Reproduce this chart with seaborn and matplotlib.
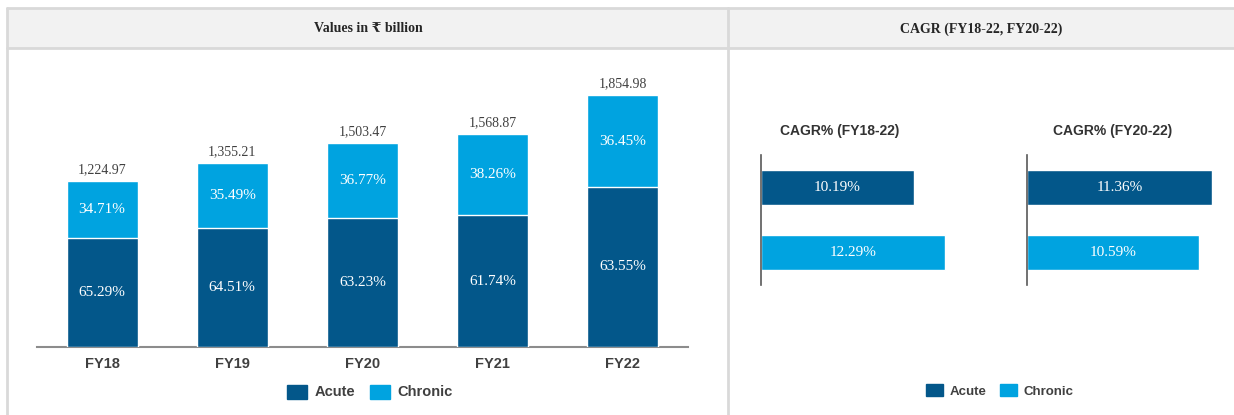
import matplotlib
matplotlib.use("Agg")
import matplotlib.pyplot as plt
import seaborn as sns
import pandas as pd
from matplotlib.patches import Rectangle, Patch
from matplotlib.lines import Line2D

# ---------------- data ----------------
years = ["FY18", "FY19", "FY20", "FY21", "FY22"]
totals = [1224.97, 1355.21, 1503.47, 1568.87, 1854.98]
acute_share = [65.29, 64.51, 63.23, 61.74, 63.55]
chronic_share = [34.71, 35.49, 36.77, 38.26, 36.45]

cagr_categories = ["Acute", "Chronic"]
cagr_18_22 = [10.19, 12.29]
cagr_20_22 = [11.36, 10.59]

panel_titles = ["Values in \u20b9 billion", "CAGR (FY18-22, FY20-22)"]
cagr_titles = ["CAGR% (FY18-22)", "CAGR% (FY20-22)"]

ACUTE = "#03578A"
CHRONIC = "#00A3E0"
TXT = "#404040"

W, H = 1234, 415
sns.set_theme(style="white")
plt.rcParams["font.family"] = ["Liberation Sans", "DejaVu Sans"]

fig = plt.figure(figsize=(W / 100, H / 100), dpi=100)
fig.patch.set_facecolor("white")


def px(x, y, w, h):
    return [x / W, 1 - (y + h) / H, w / W, h / H]


def fx(x):
    return x / W


def fy(y):
    return 1 - y / H


# ---------------- frame / header ----------------
border = "#d9d9d9"
fig.add_artist(Rectangle((fx(7), fy(48)), fx(1234 - 7), fy(8) - fy(48),
                         transform=fig.transFigure, facecolor="#f2f2f2",
                         edgecolor="none", zorder=0))
for yy in (8, 48):
    fig.add_artist(Line2D([fx(7), 1], [fy(yy), fy(yy)], transform=fig.transFigure,
                          color=border, lw=2))
for xx in (7, 728):
    fig.add_artist(Line2D([fx(xx), fx(xx)], [fy(8), 0], transform=fig.transFigure,
                          color=border, lw=2))

fig.text(fx(368), fy(29), panel_titles[0], ha="center", va="center",
         family=["Liberation Serif", "DejaVu Serif"], fontweight="bold",
         fontsize=10, color="#262626")
fig.text(fx(981), fy(29), panel_titles[1], ha="center", va="center",
         family=["Liberation Serif", "DejaVu Serif"], fontweight="bold",
         fontsize=10, color="#262626")

# ---------------- left: stacked bars ----------------
acute_vals = [t * a / 100 for t, a in zip(totals, acute_share)]
df = pd.DataFrame({"year": years, "total": totals, "acute": acute_vals})

ax = fig.add_axes(px(37, 60, 651, 287))
sns.barplot(data=df, x="year", y="total", color=CHRONIC, width=0.545,
            saturation=1, ax=ax, zorder=2)
sns.barplot(data=df, x="year", y="acute", color=ACUTE, width=0.545,
            saturation=1, ax=ax, edgecolor="white", linewidth=1, zorder=3)
ax.set_ylim(0, 287 / 0.1358)
ax.set_xlim(-0.5, 4.5)
ax.set_xlabel("")
ax.set_ylabel("")
ax.set_yticks([])
ax.set_facecolor("none")
for s in ("top", "right", "left"):
    ax.spines[s].set_visible(False)
ax.spines["bottom"].set_color("#8c8c8c")
ax.spines["bottom"].set_linewidth(1.5)
ax.tick_params(axis="x", length=0, pad=7, labelsize=10.5, labelcolor=TXT)
for lab in ax.get_xticklabels():
    lab.set_fontweight("bold")

serif = ["Liberation Serif", "DejaVu Serif"]
for i, (t, a, c, av) in enumerate(zip(totals, acute_share, chronic_share, acute_vals)):
    ax.text(i, t + 35, f"{t:,.2f}", ha="center", va="bottom", family=serif,
            fontsize=10, color=TXT)
    ax.text(i, av / 2, f"{a:.2f}%", ha="center", va="center", family=serif,
            fontsize=11, color="white")
    ax.text(i, av + (t - av) / 2, f"{c:.2f}%", ha="center", va="center",
            family=serif, fontsize=11, color="white")

fig.legend(handles=[Patch(color=ACUTE, label="Acute"), Patch(color=CHRONIC, label="Chronic")],
           loc="center", bbox_to_anchor=(fx(370), fy(392)), ncol=2, frameon=False,
           prop={"weight": "bold", "size": 10.5}, labelcolor=TXT,
           handlelength=1.4, handleheight=1.1, handletextpad=0.5, columnspacing=1.0)

# ---------------- right: CAGR bars ----------------
cagr_sets = [cagr_18_22, cagr_20_22]
ax_pos = [(760.5, 15.04), (1027, 16.28)]
title_x = [840, 1113]
for vals, (x0, scale), ttl, tx in zip(cagr_sets, ax_pos, cagr_titles, title_x):
    cdf = pd.DataFrame({"cat": cagr_categories, "val": vals})
    a2 = fig.add_axes(px(x0, 155, 200, 130))
    sns.barplot(data=cdf, y="cat", x="val", hue="cat",
                palette=[ACUTE, CHRONIC], width=0.55, saturation=1,
                legend=False, ax=a2, orient="h")
    a2.set_xlim(0, 200 / scale)
    a2.set_ylim(1.5, -0.5)
    a2.set_xticks([])
    a2.set_yticks([])
    a2.set_xlabel("")
    a2.set_ylabel("")
    a2.set_facecolor("none")
    for s in ("top", "right", "bottom"):
        a2.spines[s].set_visible(False)
    a2.spines["left"].set_color("#595959")
    a2.spines["left"].set_linewidth(1.2)
    for j, v in enumerate(vals):
        a2.text(v / 2, j, f"{v:.2f}%", ha="center", va="center", family=serif,
                fontsize=11, color="white")
    fig.text(fx(tx), fy(131), ttl, ha="center", va="center", fontweight="bold",
             fontsize=10, color="#333333")

fig.legend(handles=[Patch(color=ACUTE, label="Acute"), Patch(color=CHRONIC, label="Chronic")],
           loc="center", bbox_to_anchor=(fx(1000), fy(391)), ncol=2, frameon=False,
           prop={"weight": "bold", "size": 9.5}, labelcolor=TXT,
           handlelength=1.3, handleheight=1.0, handletextpad=0.5, columnspacing=1.0)

fig.savefig("out.png", dpi=100, facecolor="white")
